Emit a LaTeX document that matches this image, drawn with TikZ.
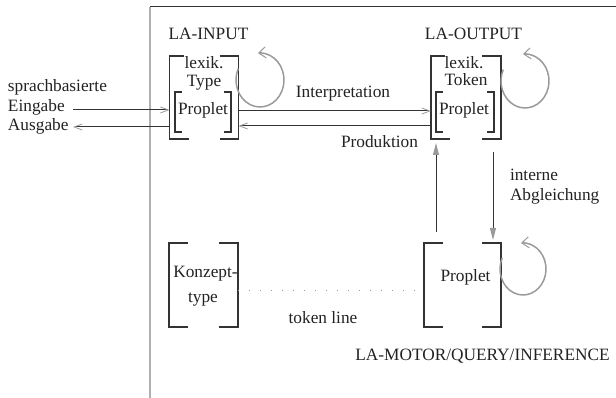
\documentclass[tikz,border=0pt]{standalone}
\usepackage{fontspec}
\setmainfont{Liberation Serif}
\usetikzlibrary{arrows.meta,calc}

\definecolor{ink}{HTML}{222222}
\definecolor{linegray}{HTML}{333333}
\definecolor{tipgray}{HTML}{9A9A9A}
\definecolor{framegray}{HTML}{B0B0B0}

% square bracket pair drawn around an (invisible) box node:
% #1 node name, #2 tick length, #3 length of the upper left tick
\newcommand\brackbox[3]{%
  \draw[brk] ($(#1.north west)+(#3,0)$) -| (#1.south west) -- ++(#2,0);
  \draw[brk] ($(#1.north east)+(-#2,0)$) -| (#1.south east) -- ++(-#2,0);
}

\begin{document}
\begin{tikzpicture}[x=1pt, y=-1pt,
  every node/.style={inner sep=0pt, outer sep=0pt, text=ink,
    font=\fontsize{17.3}{20}\selectfont},
  lbl/.style={anchor=base},
  lblw/.style={anchor=base west},
  box/.style={draw=none, rectangle, minimum width=#1},
  brk/.style={draw=linegray, line width=1.1pt},
  flow/.style={draw=linegray, line width=1pt,
    -{Straight Barb[length=8pt, width=6pt, line width=0.8pt, color=tipgray]}},
  vflow/.style={draw=linegray, line width=1pt,
    -{Triangle[length=12pt, width=6pt, color=tipgray]}},
  cycle/.style={draw=tipgray, line width=1.5pt,
    -{Straight Barb[length=7pt, width=11pt, line width=1pt]}},
]
\useasboundingbox (0,0) rectangle (616,398);

% outer frame
\draw[framegray, line width=1.2pt] (150,7) -- (150,398);
\draw[linegray, line width=1pt] (150,7) -- (616,7);

% bracket boxes
\node[box=69, minimum height=83] (inbox)  at (204,97.5) {};
\node[box=56, minimum height=40] (inprop) at (203,112) {};
\node[box=70, minimum height=83] (outbox) at (466,97.5) {};
\node[box=58, minimum height=40] (outprop) at (465,112) {};
\node[box=69, minimum height=84] (konz)   at (203.5,285) {};
\node[box=77, minimum height=84] (motor)  at (462.5,285) {};

\brackbox{inbox}{19}{14}
\brackbox{inprop}{7}{7}
\brackbox{outbox}{19}{14}
\brackbox{outprop}{7}{7}
\brackbox{konz}{19}{19}
\brackbox{motor}{19}{19}

% texts
\node[lbl] (tin)   at (208.5,40) {LA-INPUT};
\node[lbl] (tout)  at (473.5,40) {LA-OUTPUT};
\node[lbl] (lx1)   at (204,69) {lexik.};
\node[lbl] (ty1)   at (204,87) {Type};
\node[lbl] (pr1)   at (203,115) {Proplet};
\node[lbl] (lx2)   at (464,69) {lexik.};
\node[lbl] (tk2)   at (466,86) {Token};
\node[lbl] (pr2)   at (464,115) {Proplet};
\node[lbl] (tint)  at (343,98) {Interpretation};
\node[lbl] (tprod) at (379.5,148) {Produktion};
\node[lblw] (tia)  at (510,181) {interne};
\node[lblw] (tib)  at (510,201) {Abgleichung};
\node[lblw] (sp1)  at (8,92) {sprachbasierte};
\node[lblw] (sp2)  at (8,112) {Eingabe};
\node[lblw] (sp3)  at (8,131) {Ausgabe};
\node[lbl] (kz1)   at (205.5,278) {Konzept-};
\node[lbl] (kz2)   at (203,302) {type};
\node[lbl] (ttok)  at (323,323) {token line};
\node[lbl] (pr3)   at (465.5,282) {Proplet};
\node[lbl] (tmot)  at (482.5,360) {LA-MOTOR/QUERY/INFERENCE};

% free ends and levels of the connectors
\coordinate (ein) at (73,110);
\coordinate (aus) at (73,127);
\coordinate (ipl) at (0,111);
\coordinate (prl) at (0,126);
\coordinate (upx) at (436,0);
\coordinate (dnx) at (493,0);
\coordinate (tokl) at (0,290);

% language input / output
\draw[flow] (ein) -- (ein -| inbox.west);
\draw[flow] (aus -| inbox.west) -- (aus);

% interpretation and production
\draw[flow] (inbox.east |- ipl) -- (outbox.west |- ipl);
\draw[flow] (outbox.west |- prl) -- (inbox.east |- prl);

% internal matching
\draw[vflow, shorten <=11pt, shorten >=4pt] (motor.north -| upx) -- (outbox.south -| upx);
\draw[vflow, shorten <=13pt, shorten >=3pt] (outbox.south -| dnx) -- (motor.north -| dnx);

% token line
\draw[tipgray, line width=0.8pt, dash pattern=on 1pt off 10pt]
  (konz.east |- tokl) -- (motor.west |- tokl);

% activity cycles
\coordinate (c1) at (260,80);
\coordinate (c2) at (525,81);
\coordinate (c3) at (523,269);
\draw[cycle] (c1) ++(155:24pt and 27pt)
  arc[start angle=155, end angle=455, x radius=24pt, y radius=27pt];
\draw[cycle] (c2) ++(155:24pt and 27pt)
  arc[start angle=155, end angle=455, x radius=24pt, y radius=27pt];
\draw[cycle] (c3) ++(155:23pt and 26pt)
  arc[start angle=155, end angle=455, x radius=23pt, y radius=26pt];
\end{tikzpicture}
\end{document}
